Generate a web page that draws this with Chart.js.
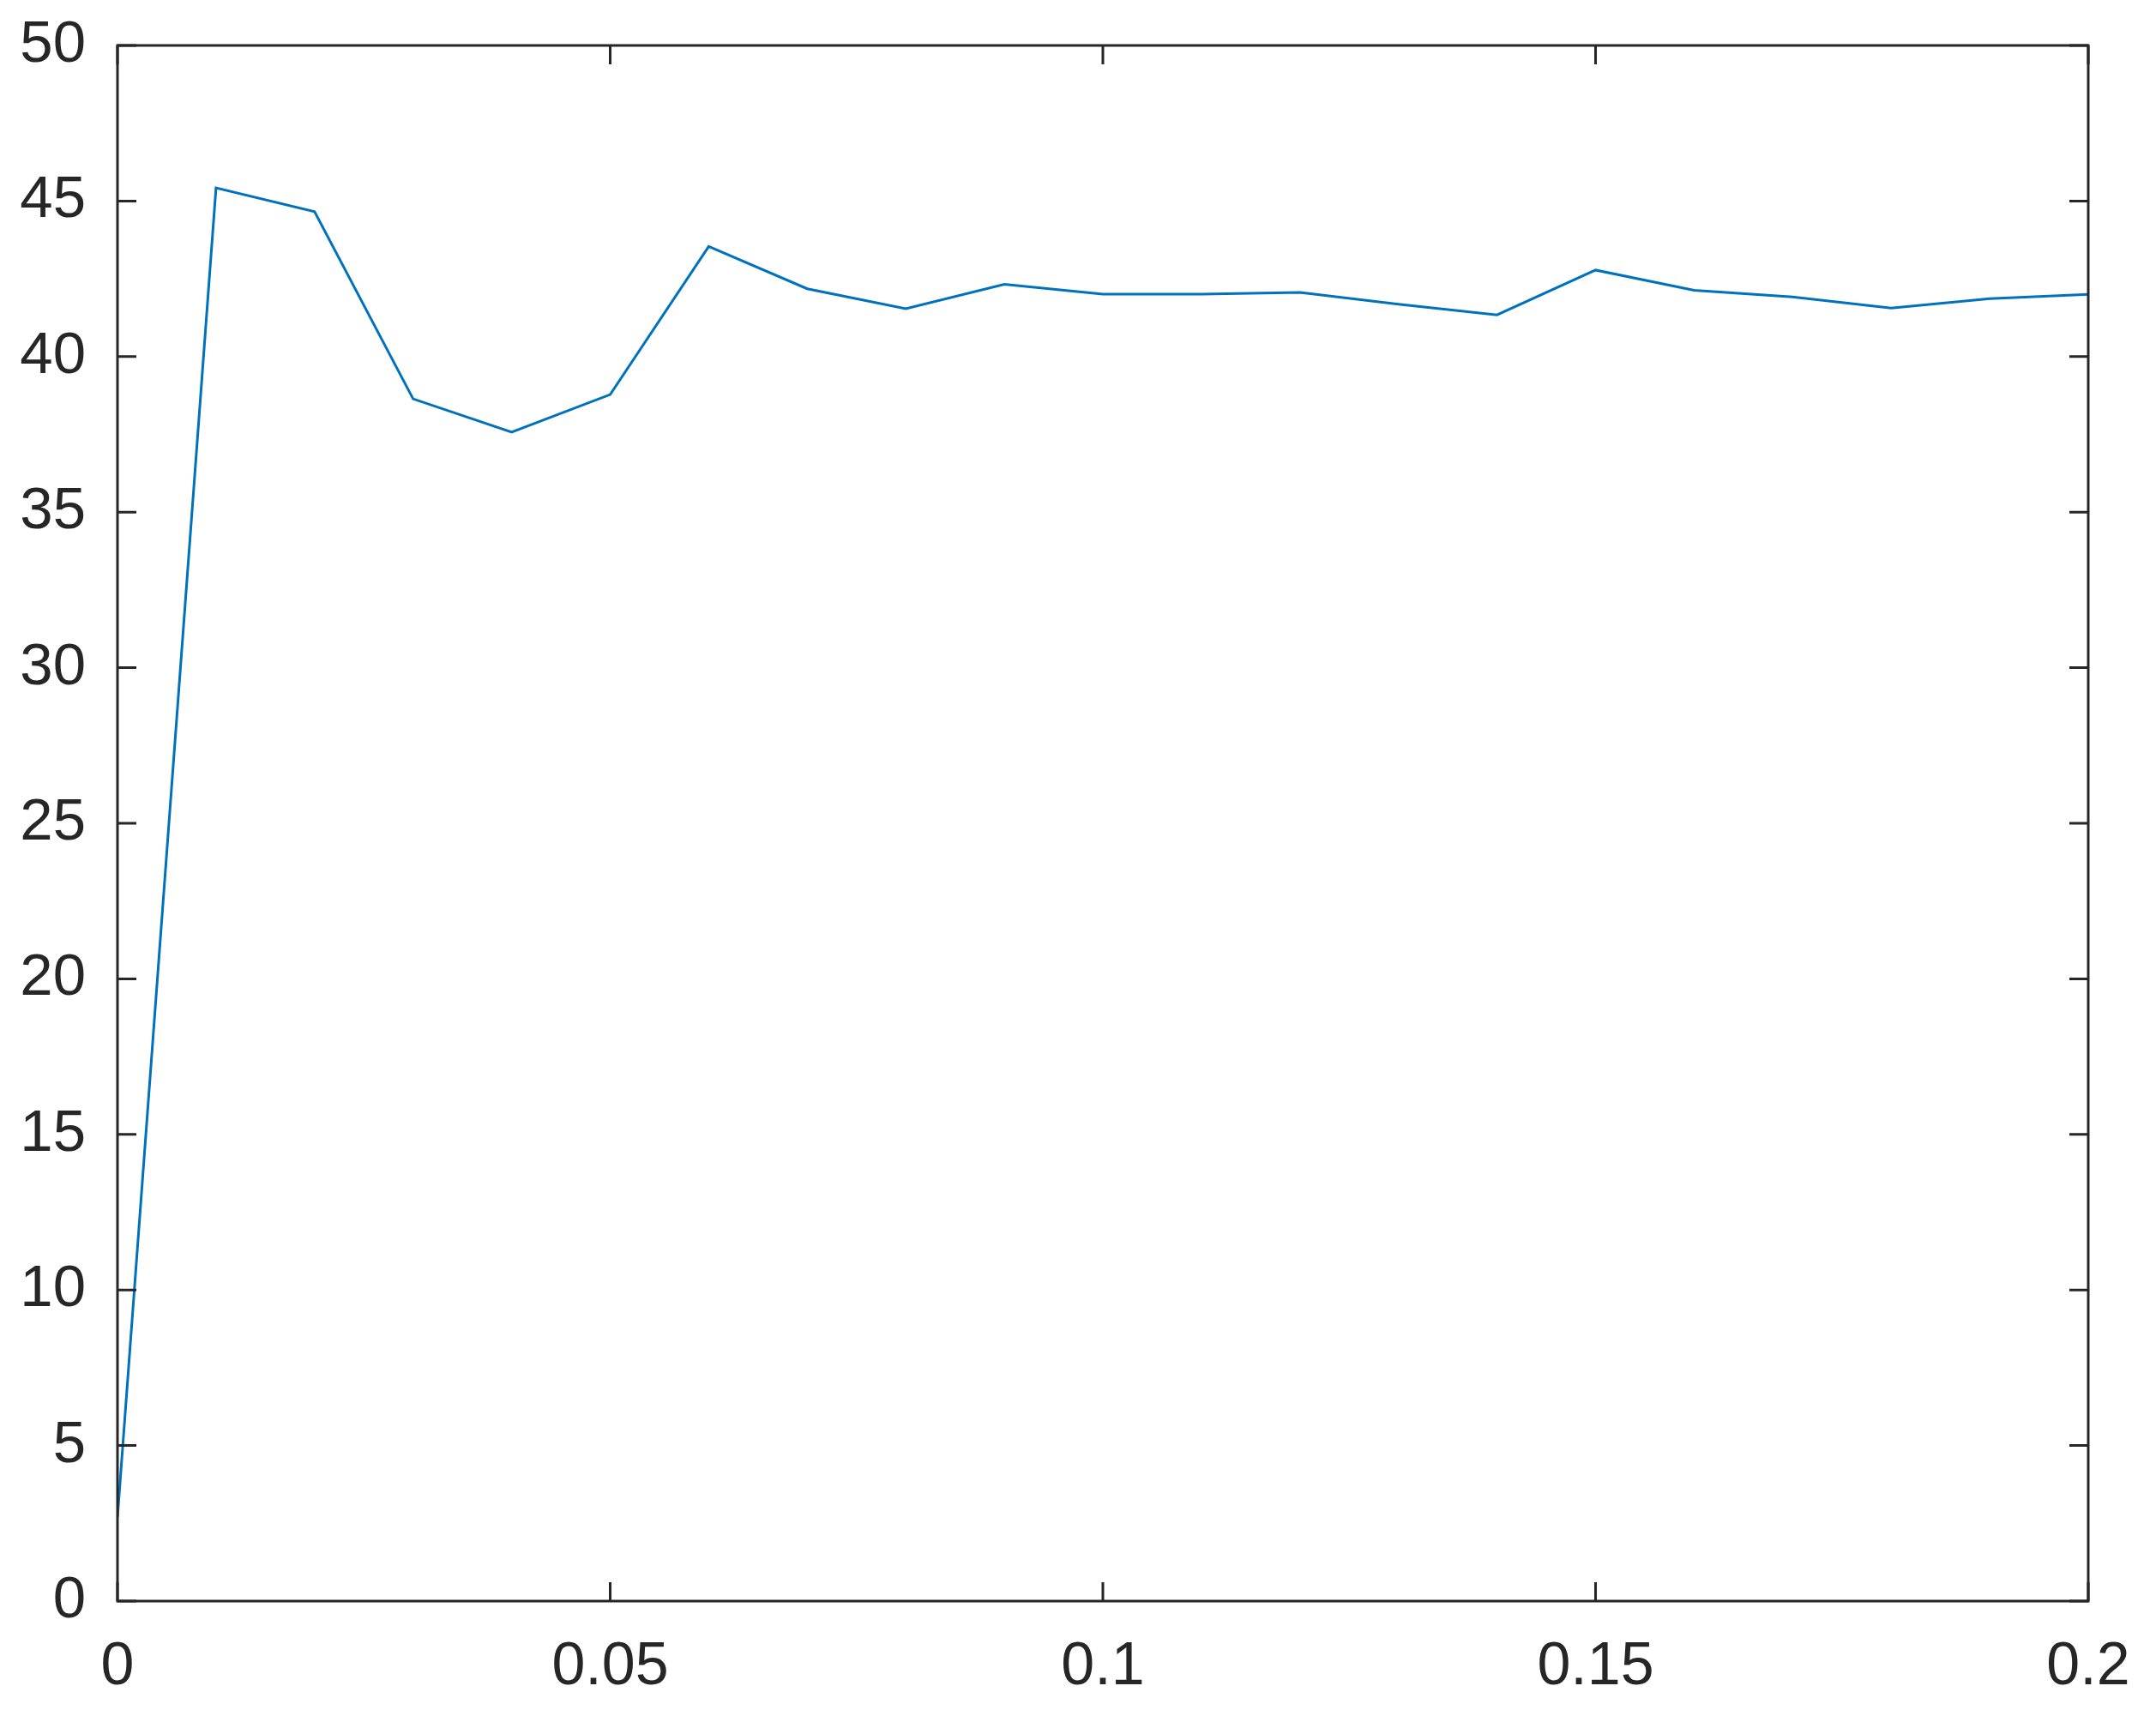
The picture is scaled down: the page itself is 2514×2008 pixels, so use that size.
<!DOCTYPE html>
<html>
<head>
<meta charset="utf-8">
<script src="https://cdn.jsdelivr.net/npm/chart.js@4"></script>
<style>
    html, body { margin: 0; padding: 0; background: #ffffff; }
    #plot { display: block; }
</style>
</head>
<body>
<canvas id="plot" width="2514" height="2008"></canvas>
<script>
// values
const xValues = [0, 0.01, 0.02, 0.03, 0.04, 0.05, 0.06, 0.07, 0.08, 0.09, 0.1,
                 0.11, 0.12, 0.13, 0.14, 0.15, 0.16, 0.17, 0.18, 0.19, 0.2];
const yValues = [2.7, 45.42, 44.66, 38.64, 37.57, 38.78, 43.54, 42.18, 41.54, 42.32, 42.01,
                 42.01, 42.06, 41.68, 41.34, 42.78, 42.13, 41.92, 41.56, 41.86, 42.0];
const xTicks = [0, 0.05, 0.1, 0.15, 0.2];
const xTickLabels = ['0', '0.05', '0.1', '0.15', '0.2'];
const yTicks = [0, 5, 10, 15, 20, 25, 30, 35, 40, 45, 50];
const yTickLabels = ['0', '5', '10', '15', '20', '25', '30', '35', '40', '45', '50'];

const axisColor = '#262626';
const lineColor = '#0072BD';
const fontFamily = '"Liberation Sans", Arial, sans-serif';

// box round the axes with ticks pointing inwards on all four sides
const boxPlugin = {
    id: 'box',
    afterDraw(chart) {
        const ctx = chart.ctx;
        const area = chart.chartArea;
        const xs = chart.scales.x;
        const ys = chart.scales.y;
        const len = 22;
        ctx.save();
        ctx.strokeStyle = axisColor;
        ctx.lineWidth = 3;
        ctx.beginPath();
        xTicks.forEach(v => {
            const px = xs.getPixelForValue(v);
            ctx.moveTo(px, area.bottom);
            ctx.lineTo(px, area.bottom - len);
            ctx.moveTo(px, area.top);
            ctx.lineTo(px, area.top + len);
        });
        yTicks.forEach(v => {
            const py = ys.getPixelForValue(v);
            ctx.moveTo(area.left, py);
            ctx.lineTo(area.left + len, py);
            ctx.moveTo(area.right, py);
            ctx.lineTo(area.right - len, py);
        });
        ctx.stroke();
        ctx.strokeRect(area.left, area.top, area.right - area.left, area.bottom - area.top);
        ctx.restore();
    }
};

const points = xValues.map((x, i) => ({ x: x, y: yValues[i] }));

new Chart(document.getElementById('plot').getContext('2d'), {
    type: 'line',
    data: {
        datasets: [{
            data: points,
            borderColor: lineColor,
            borderWidth: 3,
            pointRadius: 0,
            tension: 0,
            fill: false
        }]
    },
    options: {
        responsive: false,
        animation: false,
        events: [],
        layout: {
            padding: { left: 0, right: 79, top: 53, bottom: 0 }
        },
        plugins: {
            legend: { display: false },
            tooltip: { enabled: false }
        },
        scales: {
            x: {
                type: 'linear',
                min: 0,
                max: 0.2,
                afterBuildTicks: scale => {
                    scale.ticks = xTicks.map(v => ({ value: v }));
                },
                afterFit: scale => {
                    scale.height = 141;
                    scale.paddingLeft = 0;
                    scale.paddingRight = 0;
                },
                grid: { display: false, drawTicks: false },
                border: { display: false },
                ticks: {
                    padding: 36,
                    maxRotation: 0,
                    autoSkip: false,
                    color: axisColor,
                    font: { family: fontFamily, size: 70 },
                    callback: function (value) {
                        const i = xTicks.indexOf(value);
                        return i >= 0 ? xTickLabels[i] : '';
                    }
                }
            },
            y: {
                type: 'linear',
                min: 0,
                max: 50,
                afterBuildTicks: scale => {
                    scale.ticks = yTicks.map(v => ({ value: v }));
                },
                afterFit: scale => {
                    scale.width = 137;
                    scale.paddingTop = 0;
                    scale.paddingBottom = 0;
                },
                grid: { display: false, drawTicks: false },
                border: { display: false },
                ticks: {
                    padding: 37,
                    autoSkip: false,
                    color: axisColor,
                    font: { family: fontFamily, size: 69 },
                    callback: function (value) {
                        const i = yTicks.indexOf(value);
                        return i >= 0 ? yTickLabels[i] : '';
                    }
                }
            }
        }
    },
    plugins: [boxPlugin]
});
</script>
</body>
</html>
